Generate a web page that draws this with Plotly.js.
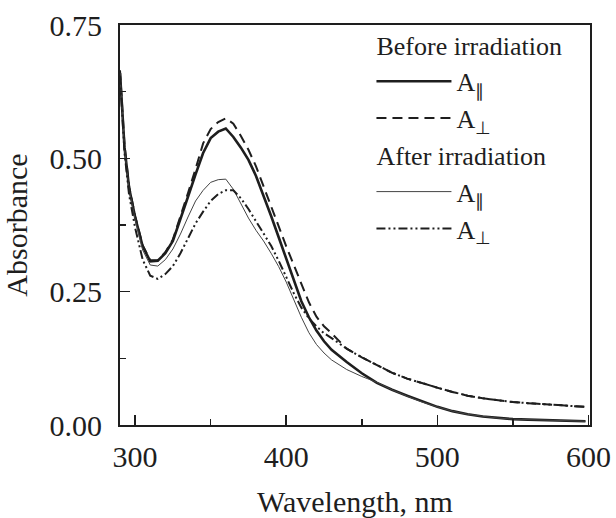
<!DOCTYPE html>
<html>
<head>
<meta charset="utf-8">
<script src="https://cdn.plot.ly/plotly-3.0.1.min.js"></script>
<style>html,body{margin:0;padding:0;background:#fff;}#chart{width:616px;height:518px;}</style>
</head>
<body>
<div id="chart"></div>
<script>
const wavelength = [290,293,296,300,305,310,315,320,325,330,335,340,345,350,355,360,365,370,375,380,385,390,395,400,405,410,415,420,425,430,440,450,460,470,480,490,500,510,520,530,540,550,560,570,580,590,598];

const beforePar = [0.660,0.520,0.445,0.390,0.335,0.307,0.308,0.322,0.345,0.385,0.428,0.470,0.510,0.538,0.550,0.556,0.540,0.520,0.497,0.467,0.430,0.392,0.352,0.313,0.270,0.232,0.202,0.177,0.157,0.141,0.118,0.097,0.079,0.066,0.055,0.044,0.034,0.026,0.020,0.016,0.013,0.011,0.010,0.009,0.008,0.0075,0.007];

const beforePerp = [0.665,0.525,0.448,0.392,0.337,0.309,0.309,0.324,0.348,0.390,0.435,0.480,0.528,0.555,0.568,0.575,0.565,0.542,0.516,0.485,0.447,0.408,0.374,0.335,0.300,0.265,0.230,0.203,0.185,0.172,0.143,0.127,0.112,0.098,0.087,0.078,0.070,0.062,0.055,0.050,0.046,0.043,0.041,0.039,0.037,0.035,0.034];

const afterPar = [0.660,0.518,0.442,0.385,0.328,0.300,0.298,0.310,0.330,0.358,0.390,0.420,0.440,0.455,0.460,0.461,0.442,0.415,0.388,0.365,0.345,0.322,0.297,0.268,0.235,0.202,0.173,0.151,0.135,0.122,0.104,0.091,0.080,0.066,0.054,0.043,0.034,0.026,0.020,0.016,0.013,0.011,0.010,0.009,0.008,0.0075,0.007];

const afterPerp = [0.655,0.510,0.432,0.370,0.310,0.280,0.274,0.283,0.298,0.322,0.350,0.378,0.400,0.420,0.433,0.440,0.440,0.425,0.405,0.382,0.360,0.336,0.308,0.277,0.247,0.220,0.200,0.185,0.172,0.163,0.143,0.127,0.112,0.098,0.087,0.078,0.070,0.062,0.055,0.050,0.046,0.043,0.041,0.039,0.037,0.035,0.034];

const groupBefore = 'Before irradiation';
const groupAfter = 'After irradiation';
const labelPar = 'A<sub>∥</sub>';
const labelPerp = 'A<sub>⊥</sub>';
const xTicks = [300,400,500,600];
const yTicks = [0,0.25,0.5,0.75];

const FONT = '"Liberation Serif", "Times New Roman", serif';
const INK = '#1e1e1e';

const traces = [
  {x: wavelength, y: beforePar, name: labelPar, legendgroup: 'b', legendgrouptitle: {text: groupBefore, font:{family:FONT,size:26,color:INK}},
   mode:'lines', line:{color:INK, width:2.6}},
  {x: wavelength, y: beforePerp, name: labelPerp, legendgroup: 'b',
   mode:'lines', line:{color:INK, width:2, dash:'10px,6px'}},
  {x: wavelength, y: afterPar, name: labelPar, legendgroup: 'a', legendgrouptitle: {text: groupAfter, font:{family:FONT,size:26,color:INK}},
   mode:'lines', line:{color:'#444', width:1}},
  {x: wavelength, y: afterPerp, name: labelPerp, legendgroup: 'a',
   mode:'lines', line:{color:INK, width:2, dash:'9px,3px,2px,3px,2px,3px'}}
];

const layout = {
  width: 616, height: 518,
  margin: {l:120, r:26, t:25, b:93},
  paper_bgcolor:'#fff', plot_bgcolor:'#fff',
  font: {family: FONT, size: 30, color: INK},
  showlegend: true,
  legend: {x:0.535, y:1.01, xanchor:'left', yanchor:'top', bgcolor:'rgba(0,0,0,0)', borderwidth:0,
           font:{family:FONT, size:26, color:INK}, tracegroupgap:0, itemwidth:75, traceorder:'grouped'},
  xaxis: {range:[290,601], tickvals:xTicks, ticks:'inside', ticklen:10, tickwidth:1.5, tickcolor:INK,
          showline:true, linewidth:2, linecolor:INK, mirror:true, showgrid:false, zeroline:false,
          minor:{dtick:50, tick0:300, ticks:'inside', ticklen:6, tickwidth:1.5, tickcolor:INK, showgrid:false},
          tickfont:{family:FONT,size:30,color:INK}, ticklabelstandoff:4,
          title:{text:'Wavelength, nm', font:{family:FONT,size:30,color:INK}, standoff:30}},
  yaxis: {range:[0,0.75], tickvals:yTicks, tickformat:'.2f', ticks:'inside', ticklen:10, tickwidth:1.5, tickcolor:INK,
          showline:true, linewidth:2, linecolor:INK, mirror:true, showgrid:false, zeroline:false,
          minor:{dtick:0.125, tick0:0, ticks:'inside', ticklen:6, tickwidth:1.5, tickcolor:INK, showgrid:false},
          tickfont:{family:FONT,size:30,color:INK}, ticklabelstandoff:10,
          title:{text:'Absorbance', font:{family:FONT,size:30,color:INK}, standoff:14}}
};

Plotly.newPlot('chart', traces, layout, {staticPlot:true, displayModeBar:false});
</script>
</body>
</html>
